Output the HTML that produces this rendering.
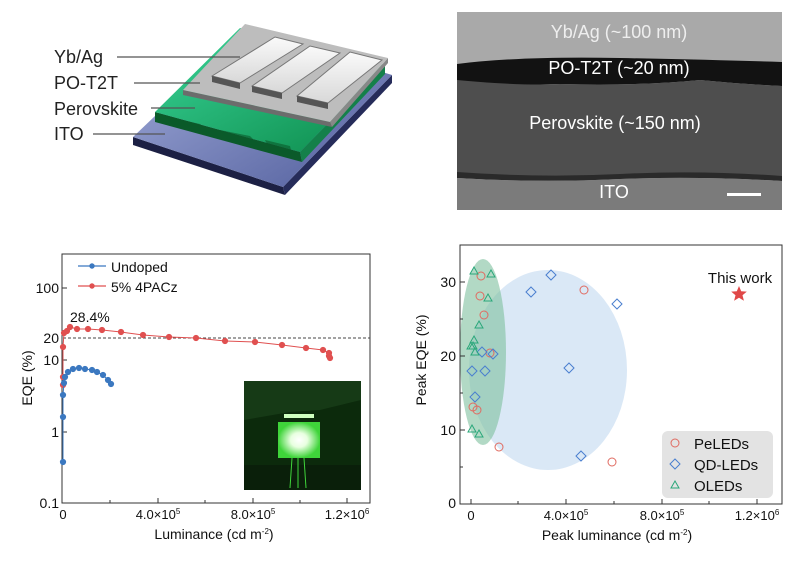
<!DOCTYPE html>
<html><head><meta charset="utf-8"><style>
body{margin:0;background:#fff}
svg{display:block;font-family:"Liberation Sans",Arial,sans-serif}
</style></head><body>
<svg width="800" height="573" viewBox="0 0 800 573" xmlns="http://www.w3.org/2000/svg">
<defs>
<linearGradient id="ito" x1="0" y1="0" x2="1" y2="1"><stop offset="0" stop-color="#9aa6d8"/><stop offset="1" stop-color="#3c4a90"/></linearGradient>
<linearGradient id="pv" x1="0" y1="0" x2="1" y2="1"><stop offset="0" stop-color="#3ad69a"/><stop offset="1" stop-color="#0c8a4a"/></linearGradient>
<linearGradient id="ag" x1="0" y1="0" x2="0" y2="1"><stop offset="0" stop-color="#fafafa"/><stop offset="1" stop-color="#d8d8d8"/></linearGradient>
<radialGradient id="glow" cx="0.5" cy="0.5" r="0.5"><stop offset="0" stop-color="#fff"/><stop offset="0.4" stop-color="#e8ffe0"/><stop offset="1" stop-color="#3fd43a"/></radialGradient>
</defs>

<!-- Device schematic -->
<polygon points="133,137 283,187 285,195 133,145" fill="#1c2044"/>
<polygon points="283,187 392,75 392,83 285,195" fill="#262c5a"/>
<polygon points="133,137 283,187 392,75 245,30" fill="url(#ito)" opacity="0.9"/>
<polygon points="155,112 300,152 302,162 155,122" fill="#0b5a2a"/>
<polygon points="300,152 385,65 385,74 302,162" fill="#14804a"/>
<polygon points="155,112 300,152 385,65 240,28" fill="url(#pv)"/>
<g fill="#0a5a2a" opacity="0.6">
<polygon points="165,116 200,124 210,133 172,124"/><polygon points="220,130 250,136 260,146 228,140"/><polygon points="265,140 290,146 292,154 270,150"/>
</g>
<polygon points="183,90 330,122 332,127 183,95" fill="#6c6c6c"/>
<polygon points="330,122 388,58 388,63 332,127" fill="#888"/>
<polygon points="183,90 330,122 388,58 245,24" fill="#bdbdbd"/>
<g stroke="#777" stroke-width="1">
<polygon points="212,76 240,83 303,44 275,37" fill="url(#ag)"/>
<polygon points="252,86 282,93 340,53 310,46" fill="url(#ag)"/>
<polygon points="297,96 328,103 382,60 350,52" fill="url(#ag)"/>
</g>
<polygon points="212,76 240,83 240,89 212,82" fill="#555"/>
<polygon points="252,86 282,93 282,99 252,92" fill="#555"/>
<polygon points="297,96 328,103 328,109 297,102" fill="#555"/>
<g font-size="18" fill="#222">
<text x="54" y="63">Yb/Ag</text>
<text x="54" y="89">PO-T2T</text>
<text x="54" y="115">Perovskite</text>
<text x="54" y="140">ITO</text>
</g>
<g stroke="#555" stroke-width="1.3">
<line x1="117" y1="57" x2="240" y2="57"/>
<line x1="134" y1="83" x2="200" y2="83"/>
<line x1="151" y1="108" x2="195" y2="108"/>
<line x1="93" y1="134" x2="165" y2="134"/>
</g>

<!-- TEM -->
<rect x="457" y="12" width="325" height="198" fill="#a9a9a9"/>
<path d="M457,64 Q520,56 620,58 T782,62 L782,86 Q740,84 700,80 Q640,86 560,84 Q500,86 457,82 Z" fill="#121212"/>
<path d="M457,80 Q520,86 560,84 Q640,86 700,80 Q740,84 782,86 L782,178 Q700,172 620,176 Q540,180 457,174 Z" fill="#4e4e4e"/>
<path d="M457,172 Q540,178 620,174 Q700,170 782,176 L782,181 Q700,176 620,179 Q540,183 457,178 Z" fill="#2a2a2a"/>
<path d="M457,178 Q540,183 620,179 Q700,176 782,181 L782,210 L457,210 Z" fill="#7b7b7b"/>
<g fill="#fff" font-size="18" text-anchor="middle">
<text x="619" y="38" fill="#eee">Yb/Ag (~100 nm)</text>
<text x="619" y="74">PO-T2T (~20 nm)</text>
<text x="615" y="129">Perovskite (~150 nm)</text>
<text x="614" y="198">ITO</text>
</g>
<rect x="727" y="193" width="34" height="3" fill="#fff"/>

<!-- Left plot -->
<rect x="62" y="254" width="308" height="249" fill="none" stroke="#333" stroke-width="1"/>
<line x1="63" y1="338" x2="370" y2="338" stroke="#444" stroke-dasharray="3,2" stroke-width="1"/>
<g stroke="#333" stroke-width="1">
<line x1="62" y1="288" x2="67" y2="288"/><line x1="62" y1="360" x2="67" y2="360"/><line x1="62" y1="432" x2="67" y2="432"/>
<line x1="158" y1="503" x2="158" y2="498"/><line x1="253" y1="503" x2="253" y2="498"/><line x1="347" y1="503" x2="347" y2="498"/>
<line x1="110" y1="503" x2="110" y2="500"/><line x1="205" y1="503" x2="205" y2="500"/><line x1="300" y1="503" x2="300" y2="500"/>
</g>
<g font-size="14" fill="#111" text-anchor="end">
<text x="59" y="293">100</text><text x="59" y="343">20</text><text x="59" y="365">10</text><text x="59" y="437">1</text><text x="59" y="508">0.1</text>
</g>
<g font-size="13" fill="#111" text-anchor="middle">
<text x="63" y="519">0</text><text x="158" y="519">4.0×10<tspan font-size="8" dy="-5">5</tspan></text>
<text x="253" y="519">8.0×10<tspan font-size="8" dy="-5">5</tspan></text><text x="347" y="519">1.2×10<tspan font-size="8" dy="-5">6</tspan></text>
</g>
<text x="214" y="539" font-size="14" text-anchor="middle" fill="#111">Luminance (cd m<tspan font-size="8" dy="-5">-2</tspan><tspan dy="5">)</tspan></text>
<text transform="translate(32,378) rotate(-90)" font-size="14" text-anchor="middle" fill="#111">EQE (%)</text>
<text x="70" y="322" font-size="14" fill="#111">28.4%</text>
<g font-size="14" fill="#111"><text x="111" y="272">Undoped</text><text x="111" y="292">5% 4PACz</text></g>
<line x1="78" y1="266" x2="106" y2="266" stroke="#3b78c0" stroke-width="1.2"/><circle cx="92" cy="266" r="2.7" fill="#3b78c0"/>
<line x1="78" y1="286" x2="106" y2="286" stroke="#e05050" stroke-width="1.2"/><circle cx="92" cy="286" r="2.7" fill="#e05050"/>
<g fill="#e05050" stroke="#e05050" stroke-width="1">
<polyline fill="none" points="63,385 63,377 63,347 64,333 67,331 70,327 77,329 88,329 102,330 121,332 143,335 169,337 196,338 225,341 255,342 282,345 306,348 323,350 329,353 329,356 330,358"/>
<circle cx="63" cy="385" r="2.6"/><circle cx="63" cy="377" r="2.6"/><circle cx="63" cy="347" r="2.6"/><circle cx="64" cy="333" r="2.6"/><circle cx="67" cy="331" r="2.6"/><circle cx="70" cy="327" r="2.6"/><circle cx="77" cy="329" r="2.6"/><circle cx="88" cy="329" r="2.6"/><circle cx="102" cy="330" r="2.6"/><circle cx="121" cy="332" r="2.6"/><circle cx="143" cy="335" r="2.6"/><circle cx="169" cy="337" r="2.6"/><circle cx="196" cy="338" r="2.6"/><circle cx="225" cy="341" r="2.6"/><circle cx="255" cy="342" r="2.6"/><circle cx="282" cy="345" r="2.6"/><circle cx="306" cy="348" r="2.6"/><circle cx="323" cy="350" r="2.6"/><circle cx="329" cy="353" r="2.6"/><circle cx="329" cy="356" r="2.6"/><circle cx="330" cy="358" r="2.6"/>
</g>
<g fill="#3b78c0" stroke="#3b78c0" stroke-width="1">
<polyline fill="none" points="63,462 63,417 63,395 64,383 65,377 68,372 73,369 79,368 85,369 92,370 97,372 103,375 108,380 111,384"/>
<circle cx="63" cy="462" r="2.6"/><circle cx="63" cy="417" r="2.6"/><circle cx="63" cy="395" r="2.6"/><circle cx="64" cy="383" r="2.6"/><circle cx="65" cy="377" r="2.6"/><circle cx="68" cy="372" r="2.6"/><circle cx="73" cy="369" r="2.6"/><circle cx="79" cy="368" r="2.6"/><circle cx="85" cy="369" r="2.6"/><circle cx="92" cy="370" r="2.6"/><circle cx="97" cy="372" r="2.6"/><circle cx="103" cy="375" r="2.6"/><circle cx="108" cy="380" r="2.6"/><circle cx="111" cy="384" r="2.6"/>
</g>
<!-- inset photo -->
<rect x="244" y="381" width="117" height="109" fill="#0c2a0c"/>
<polygon points="244,381 361,381 361,400 320,410 290,412 244,420" fill="#163a16"/>
<rect x="244" y="465" width="117" height="25" fill="#0a1f0a"/>
<rect x="278" y="422" width="42" height="36" fill="url(#glow)"/>
<rect x="284" y="414" width="30" height="4" fill="#cfffc0"/>
<g stroke="#3fd43a" stroke-width="1"><line x1="292" y1="458" x2="290" y2="488"/><line x1="298" y1="458" x2="298" y2="488"/><line x1="304" y1="458" x2="306" y2="488"/></g>

<!-- Right plot -->
<ellipse cx="548" cy="370" rx="79" ry="100" fill="#bcd6ee" opacity="0.55"/>
<ellipse cx="483" cy="352" rx="23" ry="93" fill="#7fbf9e" opacity="0.6"/>
<rect x="460" y="245" width="322" height="259" fill="none" stroke="#333" stroke-width="1"/>
<g stroke="#333" stroke-width="1">
<line x1="460" y1="282" x2="465" y2="282"/><line x1="460" y1="356" x2="465" y2="356"/><line x1="460" y1="430" x2="465" y2="430"/>
<line x1="460" y1="319" x2="463" y2="319"/><line x1="460" y1="393" x2="463" y2="393"/><line x1="460" y1="467" x2="463" y2="467"/>
<line x1="471" y1="504" x2="471" y2="499"/><line x1="566" y1="504" x2="566" y2="499"/><line x1="662" y1="504" x2="662" y2="499"/><line x1="757" y1="504" x2="757" y2="499"/>
<line x1="518" y1="504" x2="518" y2="501"/><line x1="614" y1="504" x2="614" y2="501"/><line x1="709" y1="504" x2="709" y2="501"/>
</g>
<g font-size="14" fill="#111" text-anchor="end">
<text x="456" y="287">30</text><text x="456" y="361">20</text><text x="456" y="435">10</text><text x="456" y="508">0</text>
</g>
<g font-size="13" fill="#111" text-anchor="middle">
<text x="471" y="520">0</text><text x="566" y="520">4.0×10<tspan font-size="8" dy="-5">5</tspan></text>
<text x="662" y="520">8.0×10<tspan font-size="8" dy="-5">5</tspan></text><text x="757" y="520">1.2×10<tspan font-size="8" dy="-5">6</tspan></text>
</g>
<text x="617" y="540" font-size="14" text-anchor="middle" fill="#111">Peak luminance (cd m<tspan font-size="8" dy="-5">-2</tspan><tspan dy="5">)</tspan></text>
<text transform="translate(426,360) rotate(-90)" font-size="14" text-anchor="middle" fill="#111">Peak EQE (%)</text>
<g fill="none" stroke="#e06a60" stroke-width="1">
<circle cx="481" cy="276" r="4"/><circle cx="480" cy="296" r="4"/><circle cx="484" cy="315" r="4"/><circle cx="490" cy="353" r="4"/><circle cx="473" cy="407" r="4"/><circle cx="477" cy="410" r="4"/><circle cx="499" cy="447" r="4"/><circle cx="584" cy="290" r="4"/><circle cx="612" cy="462" r="4"/>
</g>
<g fill="none" stroke="#4a7fcf" stroke-width="1">
<path d="M551,270l5,5l-5,5l-5,-5z"/><path d="M531,287l5,5l-5,5l-5,-5z"/><path d="M617,299l5,5l-5,5l-5,-5z"/><path d="M493,349l5,5l-5,5l-5,-5z"/><path d="M482,347l5,5l-5,5l-5,-5z"/><path d="M472,366l5,5l-5,5l-5,-5z"/><path d="M485,366l5,5l-5,5l-5,-5z"/><path d="M569,363l5,5l-5,5l-5,-5z"/><path d="M475,392l5,5l-5,5l-5,-5z"/><path d="M581,451l5,5l-5,5l-5,-5z"/>
</g>
<g fill="none" stroke="#2aa77a" stroke-width="1">
<path d="M474,267l4,7h-8z"/><path d="M491,270l4,7h-8z"/><path d="M488,294l4,7h-8z"/><path d="M479,321l4,7h-8z"/><path d="M474,336l4,7h-8z"/><path d="M473,342l4,7h-8z"/><path d="M475,348l4,7h-8z"/><path d="M471,342l4,7h-8z"/><path d="M472,425l4,7h-8z"/><path d="M479,430l4,7h-8z"/>
</g>
<text x="740" y="283" font-size="15" text-anchor="middle" fill="#111">This work</text>
<path d="M739,286 l2.2,5.2 5.6,0.4 -4.3,3.6 1.4,5.5 -4.9,-3 -4.9,3 1.4,-5.5 -4.3,-3.6 5.6,-0.4z" fill="#e04848"/>
<rect x="662" y="431" width="111" height="67" rx="6" fill="#e3e3e3"/>
<circle cx="675" cy="443" r="4" fill="none" stroke="#e06a60"/>
<path d="M675,459l5,5l-5,5l-5,-5z" fill="none" stroke="#4a7fcf"/>
<path d="M675,481l4,7h-8z" fill="none" stroke="#2aa77a"/>
<g font-size="15" fill="#111"><text x="694" y="449">PeLEDs</text><text x="694" y="470">QD-LEDs</text><text x="694" y="491">OLEDs</text></g>
</svg>
</body></html>
